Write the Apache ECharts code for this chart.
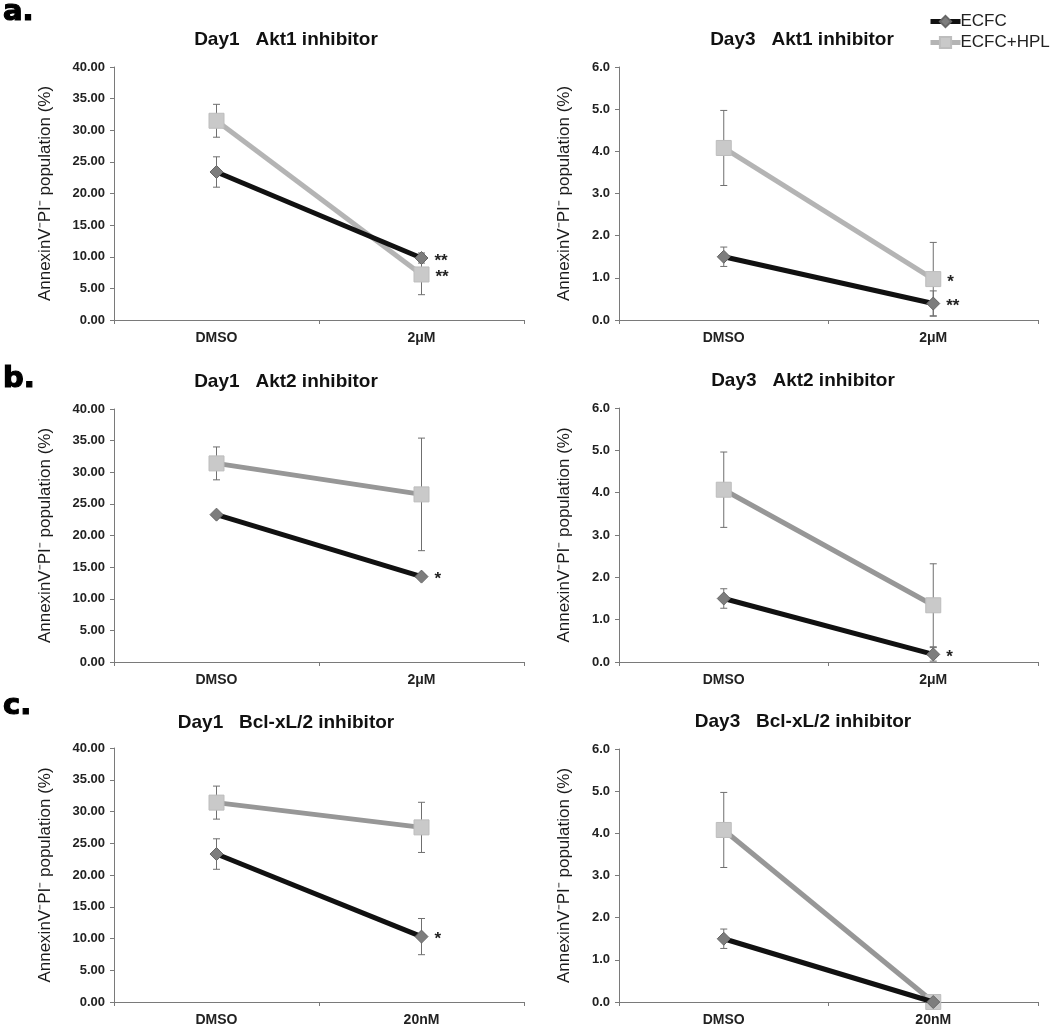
<!DOCTYPE html>
<html>
<head>
<meta charset="utf-8">
<script src="https://cdn.jsdelivr.net/npm/echarts@6/dist/echarts.min.js"></script>
<style>html,body{margin:0;padding:0;background:#fff}#c{width:1050px;height:1030px}</style>
</head>
<body>
<div id="c"></div>
<script>
// ---------- DATA ----------
const catsAkt = ['DMSO', '2μM'];
const catsBcl = ['DMSO', '20nM'];
const seriesNames = ['ECFC', 'ECFC+HPL'];
const panelTitles = ['Day1   Akt1 inhibitor', 'Day3   Akt1 inhibitor', 'Day1   Akt2 inhibitor', 'Day3   Akt2 inhibitor', 'Day1   Bcl-xL/2 inhibitor', 'Day3   Bcl-xL/2 inhibitor'];
const panelLetters = ['a.', 'b.', 'c.'];
const yName = 'AnnexinV⁻PI⁻ population (%)';

// Day1 Akt1
const d1a1_ecfc = [23.4, 9.8];      const d1a1_ecfc_err = [2.4, 0.8];
const d1a1_hpl  = [31.5, 7.2];      const d1a1_hpl_err  = [2.6, 3.2];
const d1a1_sig_ecfc = ['', '**'];   const d1a1_sig_hpl = ['', '**'];
// Day3 Akt1
const d3a1_ecfc = [1.50, 0.39];     const d3a1_ecfc_err = [0.23, 0.30];
const d3a1_hpl  = [4.08, 0.97];     const d3a1_hpl_err  = [0.89, 0.87];
const d3a1_sig_ecfc = ['', '**'];   const d3a1_sig_hpl = ['', '*'];
// Day1 Akt2
const d1a2_ecfc = [23.3, 13.5];     const d1a2_ecfc_err = [0, 0];
const d1a2_hpl  = [31.4, 26.5];     const d1a2_hpl_err  = [2.6, 8.9];
const d1a2_sig_ecfc = ['', '*'];    const d1a2_sig_hpl = ['', ''];
// Day3 Akt2
const d3a2_ecfc = [1.50, 0.18];     const d3a2_ecfc_err = [0.23, 0.16];
const d3a2_hpl  = [4.07, 1.34];     const d3a2_hpl_err  = [0.89, 0.98];
const d3a2_sig_ecfc = ['', '*'];    const d3a2_sig_hpl = ['', ''];
// Day1 Bcl-xL/2
const d1b_ecfc = [23.3, 10.3];      const d1b_ecfc_err = [2.4, 2.85];
const d1b_hpl  = [31.4, 27.5];      const d1b_hpl_err  = [2.6, 3.95];
const d1b_sig_ecfc = ['', '*'];     const d1b_sig_hpl = ['', ''];
// Day3 Bcl-xL/2
const d3b_ecfc = [1.50, 0.0];       const d3b_ecfc_err = [0.23, 0];
const d3b_hpl  = [4.08, 0.0];       const d3b_hpl_err  = [0.89, 0];
const d3b_sig_ecfc = ['', ''];      const d3b_sig_hpl = ['', ''];

const yMaxDay1 = 40, yIntDay1 = 5, yMaxDay3 = 6, yIntDay3 = 1;

// ---------- LAYOUT ----------
const panels = [
  {cats: catsAkt, e: d1a1_ecfc, ee: d1a1_ecfc_err, h: d1a1_hpl, he: d1a1_hpl_err, se: d1a1_sig_ecfc, sh: d1a1_sig_hpl, day1: true,  left: 114, top: 67,  width: 410, height: 253, tx: 286, ty: 40, hplColor: '#b4b4b4'},
  {cats: catsAkt, e: d3a1_ecfc, ee: d3a1_ecfc_err, h: d3a1_hpl, he: d3a1_hpl_err, se: d3a1_sig_ecfc, sh: d3a1_sig_hpl, day1: false, left: 619, top: 67,  width: 419, height: 253, tx: 802, ty: 40, hplColor: '#b4b4b4'},
  {cats: catsAkt, e: d1a2_ecfc, ee: d1a2_ecfc_err, h: d1a2_hpl, he: d1a2_hpl_err, se: d1a2_sig_ecfc, sh: d1a2_sig_hpl, day1: true,  left: 114, top: 409, width: 410, height: 253, tx: 286, ty: 382, hplColor: '#979797'},
  {cats: catsAkt, e: d3a2_ecfc, ee: d3a2_ecfc_err, h: d3a2_hpl, he: d3a2_hpl_err, se: d3a2_sig_ecfc, sh: d3a2_sig_hpl, day1: false, left: 619, top: 408, width: 419, height: 254, tx: 803, ty: 381, hplColor: '#979797'},
  {cats: catsBcl, e: d1b_ecfc, ee: d1b_ecfc_err, h: d1b_hpl, he: d1b_hpl_err, se: d1b_sig_ecfc, sh: d1b_sig_hpl, day1: true,  left: 114, top: 748, width: 410, height: 254, tx: 286, ty: 723, hplColor: '#979797'},
  {cats: catsBcl, e: d3b_ecfc, ee: d3b_ecfc_err, h: d3b_hpl, he: d3b_hpl_err, se: d3b_sig_ecfc, sh: d3b_sig_hpl, day1: false, left: 619, top: 749, width: 419, height: 253, tx: 803, ty: 722, hplColor: '#979797'}
];
const letterPos = [[3, 12], [3, 379], [3, 706]];

const FONT = 'Liberation Sans, Arial, Helvetica, sans-serif';
const grids = [], xAxes = [], yAxes = [], series = [], graphics = [];

function errRender(params, api) {
  const x = api.value(0), v = api.value(1), e = api.value(2);
  if (!e) return null;
  const top = api.coord([x, v + e]);
  const bot = api.coord([x, Math.max(0, v - e)]);
  const botReal = v - e >= 0;
  const cap = 3.5;
  const children = [
    {type: 'line', shape: {x1: top[0], y1: top[1], x2: bot[0], y2: bot[1]}, style: {stroke: '#6f6f6f', lineWidth: 1}},
    {type: 'line', shape: {x1: top[0] - cap, y1: top[1], x2: top[0] + cap, y2: top[1]}, style: {stroke: '#6f6f6f', lineWidth: 1}}
  ];
  if (botReal) children.push({type: 'line', shape: {x1: bot[0] - cap, y1: bot[1], x2: bot[0] + cap, y2: bot[1]}, style: {stroke: '#6f6f6f', lineWidth: 1}});
  return {type: 'group', children};
}

panels.forEach((p, i) => {
  grids.push({left: p.left, top: p.top, width: p.width, height: p.height, containLabel: false});
  xAxes.push({
    type: 'category', gridIndex: i, data: p.cats, boundaryGap: true,
    axisLine: {lineStyle: {color: '#7a7a7a', width: 1}},
    axisTick: {show: true, length: 4, lineStyle: {color: '#7a7a7a'}},
    axisLabel: {fontFamily: FONT, fontWeight: 'bold', fontSize: 14, color: '#222', margin: 11}
  });
  const max = p.day1 ? yMaxDay1 : yMaxDay3;
  const interval = p.day1 ? yIntDay1 : yIntDay3;
  const dec = p.day1 ? 2 : 1;
  yAxes.push({
    type: 'value', gridIndex: i, min: 0, max: max, interval: interval,
    name: yName, nameLocation: 'middle', nameGap: p.day1 ? 60 : 46,
    nameTextStyle: {fontFamily: FONT, fontSize: 17, color: '#1a1a1a'},
    axisLine: {show: true, lineStyle: {color: '#7a7a7a', width: 1}},
    axisTick: {show: true, length: 4, lineStyle: {color: '#7a7a7a'}},
    splitLine: {show: false},
    axisLabel: {fontFamily: FONT, fontWeight: 'bold', fontSize: 13, color: '#222', margin: 9,
      formatter: v => v.toFixed(dec)}
  });
  // error bars
  series.push({
    type: 'custom', xAxisIndex: i, yAxisIndex: i, z: 1, silent: true,
    renderItem: errRender, data: p.e.map((v, k) => [k, v, p.ee[k]])
  });
  series.push({
    type: 'custom', xAxisIndex: i, yAxisIndex: i, z: 1, silent: true,
    renderItem: errRender, data: p.h.map((v, k) => [k, v, p.he[k]])
  });
  const lbl = (s) => ({show: !!s, position: 'right', distance: 6, formatter: s || ' ',
    fontFamily: FONT, fontSize: 17, fontWeight: 'bold', color: '#222', offset: [0, 3]});
  series.push({
    name: seriesNames[0], type: 'line', xAxisIndex: i, yAxisIndex: i, z: 3,
    symbol: 'diamond', symbolSize: 13,
    lineStyle: {color: '#111', width: 5},
    itemStyle: {color: '#7d7d7d', borderColor: '#666', borderWidth: 1},
    data: p.e.map((v, k) => ({value: v, label: lbl(p.se[k])})),
    animation: false
  });
  series.push({
    name: seriesNames[1], type: 'line', xAxisIndex: i, yAxisIndex: i, z: 2,
    symbol: 'rect', symbolSize: 15,
    lineStyle: {color: p.hplColor, width: 5},
    itemStyle: {color: '#c9c9c9', borderColor: '#bdbdbd', borderWidth: 1},
    data: p.h.map((v, k) => ({value: v, label: lbl(p.sh[k])})),
    animation: false
  });
  graphics.push({
    type: 'text', x: p.tx, y: p.ty,
    style: {text: panelTitles[i], font: 'bold 19px ' + FONT, fill: '#111',
      align: 'center', verticalAlign: 'middle', textAlign: 'center', textVerticalAlign: 'middle'}
  });
});
panelLetters.forEach((t, i) => {
  graphics.push({
    type: 'text', x: letterPos[i][0], y: letterPos[i][1],
    style: {text: t, font: 'bold 29px "DejaVu Sans", ' + FONT, fill: '#000',
      stroke: '#000', lineWidth: 1.2,
      align: 'left', verticalAlign: 'middle', textAlign: 'left', textVerticalAlign: 'middle'}
  });
});

const chart = echarts.init(document.getElementById('c'), null, {renderer: 'canvas'});
chart.setOption({
  animation: false,
  backgroundColor: '#fff',
  grid: grids, xAxis: xAxes, yAxis: yAxes, series: series,
  legend: {
    data: seriesNames, orient: 'vertical', left: 923, top: 8, itemGap: 4,
    itemWidth: 30, itemHeight: 14,
    lineStyle: {width: 5},
    textStyle: {fontFamily: FONT, fontSize: 17, color: '#222', padding: [0, 0, 0, -5]}
  },
  graphic: graphics
});
</script>
</body>
</html>
